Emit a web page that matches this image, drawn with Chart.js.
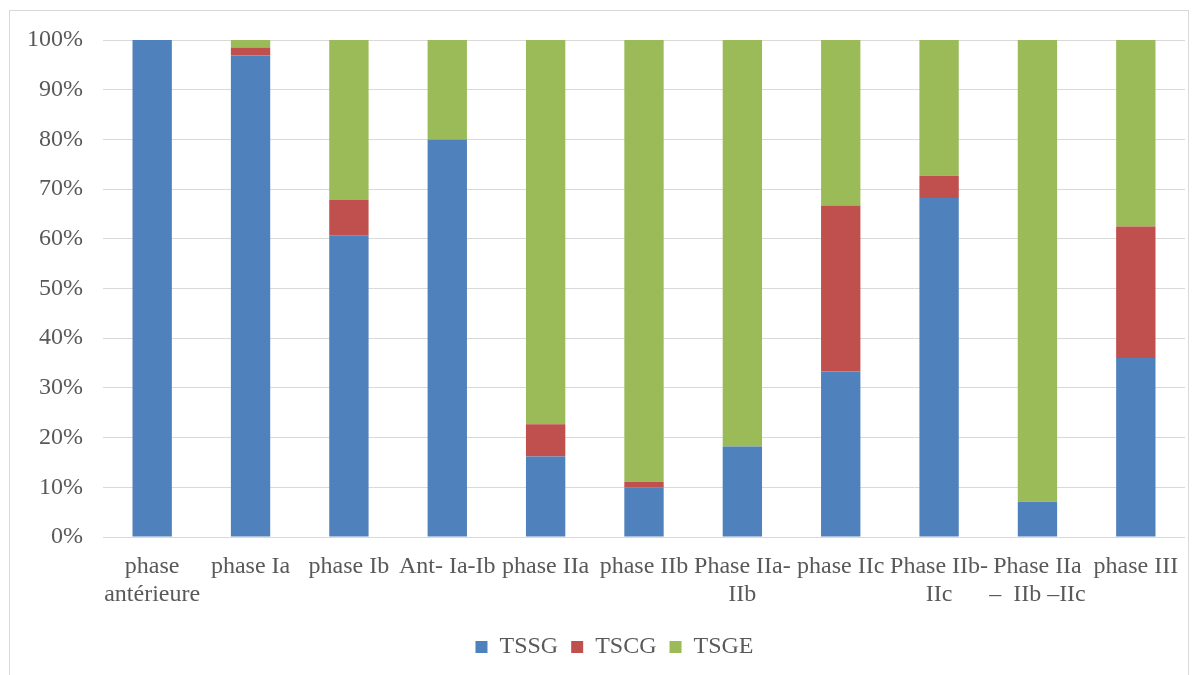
<!DOCTYPE html>
<html>
<head>
<meta charset="utf-8">
<script src="https://cdn.jsdelivr.net/npm/chart.js@4/dist/chart.umd.min.js"></script>
<style>
  html, body { margin: 0; padding: 0; background: #fff; }
  #frame { position: absolute; left: 9px; top: 10px; width: 1180px; height: 680px; border: 1px solid #d9d9d9; box-sizing: border-box; }
  #wrap { position: absolute; left: 0; top: 0; width: 1200px; height: 675px; }
</style>
</head>
<body>
<div id="frame"></div>
<div id="wrap"><canvas id="chart"></canvas></div>
<script>
// categories (multi-line labels as in the original)
const categories = [
  ["phase", "antérieure"], "phase Ia", "phase Ib", "Ant- Ia-Ib", "phase IIa", "phase IIb",
  ["Phase IIa-", "IIb"], "phase IIc", ["Phase IIb-", "IIc"], ["Phase IIa", "–  IIb –IIc"], "phase III"
];

// percentages
const tssg = [100, 96.9, 60.7, 80, 16.2, 10, 18.2, 33.3, 68.2, 7.1, 36];
const tscg = [0, 1.6, 7.1, 0, 6.5, 1.1, 0, 33.4, 4.5, 0, 26.5];
const tsge = [0, 1.5, 32.2, 20, 77.3, 88.9, 81.8, 33.3, 27.3, 92.9, 37.5];

const yTicks = [0, 10, 20, 30, 40, 50, 60, 70, 80, 90, 100];

const textColor = "#595959";
const font = { family: "'Liberation Serif', 'Times New Roman', serif", size: 24, lineHeight: 1.15 };

// nudge the legend to the right, like the original
const legendShift = {
  id: "legendShift",
  afterLayout(chart) {
    chart.legend.left += 22;
    chart.legend.right += 22;
  }
};

new Chart(document.getElementById("chart"), {
  type: "bar",
  data: {
    labels: categories,
    datasets: [
      { label: "TSSG", data: tssg, backgroundColor: "#4F81BD" },
      { label: "TSCG", data: tscg, backgroundColor: "#C0504D" },
      { label: "TSGE", data: tsge, backgroundColor: "#9BBB59" }
    ]
  },
  options: {
    responsive: true,
    maintainAspectRatio: false,
    animation: false,
    layout: { padding: { left: 0, right: 15, top: 40, bottom: 6 } },
    datasets: { bar: { categoryPercentage: 1, barPercentage: 0.4 } },
    plugins: {
      legend: {
        position: "bottom",
        labels: { color: textColor, font: font, boxWidth: 12, boxHeight: 12, padding: 13 }
      },
      tooltip: { enabled: false }
    },
    scales: {
      x: {
        stacked: true,
        grid: { display: false },
        border: { display: false },
        ticks: { color: textColor, font: font, maxRotation: 0, autoSkip: false, padding: 8 },
        afterFit: s => { s.height = 85; }
      },
      y: {
        stacked: true,
        min: 0,
        max: 100,
        afterBuildTicks: s => { s.ticks = yTicks.map(v => ({ value: v })); },
        grid: { color: "#d9d9d9", lineWidth: 1, drawTicks: false },
        border: { display: false },
        ticks: { color: textColor, font: font, padding: 20, callback: v => v + "%" },
        afterFit: s => { s.width = 103; }
      }
    }
  },
  plugins: [legendShift]
});
</script>
</body>
</html>
